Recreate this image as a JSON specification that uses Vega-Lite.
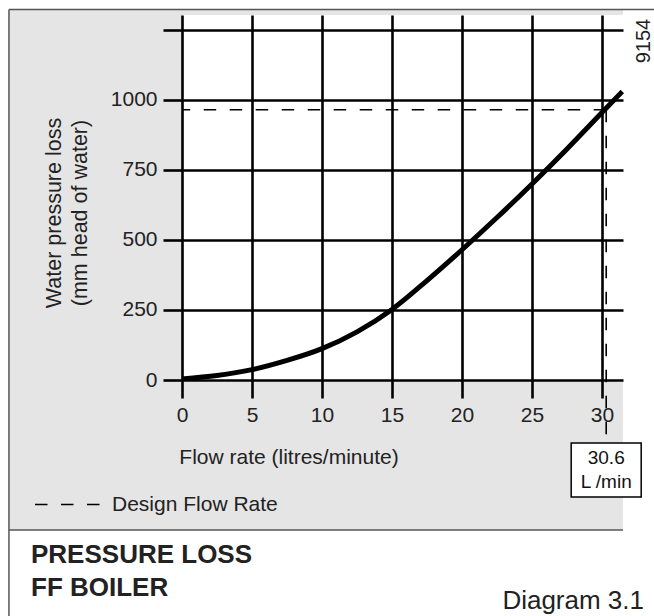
{
  "$schema": "https://vega.github.io/schema/vega-lite/v6.json",
  "width": 441,
  "height": 365,
  "autosize": {"type": "none"},
  "padding": {"left": 182, "top": 15, "right": 31, "bottom": 236},
  "background": "white",
  "config": {
    "font": "Liberation Sans",
    "view": {"stroke": null},
    "text": {"color": "#222", "font": "Liberation Sans"}
  },
  "title": {
    "text": ["PRESSURE LOSS", "FF BOILER"],
    "orient": "bottom",
    "anchor": "start",
    "frame": "group",
    "baseline": "alphabetic",
    "offset": -54.5,
    "dx": -151,
    "fontSize": 26,
    "fontWeight": "bold",
    "color": "#222",
    "lineHeight": 33.5,
    "font": "Liberation Sans"
  },
  "datasets": {
    "curve": [
      {"flow": 0, "loss": 4},
      {"flow": 2.5, "loss": 16},
      {"flow": 5, "loss": 37},
      {"flow": 7.5, "loss": 70},
      {"flow": 10, "loss": 112},
      {"flow": 12.5, "loss": 172},
      {"flow": 15, "loss": 252},
      {"flow": 17.5, "loss": 355},
      {"flow": 20, "loss": 465},
      {"flow": 22.5, "loss": 580},
      {"flow": 25, "loss": 700},
      {"flow": 27.5, "loss": 825},
      {"flow": 30, "loss": 955},
      {"flow": 31.45, "loss": 1030}
    ],
    "design": [
      {"flow": 30.3, "loss": 965, "label": "30.6\nL /min", "series": "Design Flow Rate"}
    ]
  },
  "layer": [
    {
      "data": {"values": [{}]},
      "mark": {"type": "rect", "fill": "#e5e5e5"},
      "encoding": {
        "x": {"datum": -12.36, "type": "quantitative"},
        "x2": {"datum": 31.5},
        "y": {"datum": 1321, "type": "quantitative"},
        "y2": {"datum": -535.5}
      }
    },
    {
      "data": {"values": [{}]},
      "mark": {"type": "rect", "fill": "#ffffff"},
      "encoding": {
        "x": {"datum": 0, "type": "quantitative"},
        "x2": {"datum": 31.5},
        "y": {"datum": 0, "type": "quantitative"},
        "y2": {"datum": 1303}
      }
    },
    {
      "data": {"values": [{}]},
      "mark": {"type": "rule", "color": "#555", "strokeWidth": 1.5},
      "encoding": {
        "x": {"datum": -12.36, "type": "quantitative"},
        "x2": {"datum": 33.75},
        "y": {"datum": 1322.6, "type": "quantitative"}
      }
    },
    {
      "data": {"values": [{}]},
      "mark": {"type": "rule", "color": "#555", "strokeWidth": 1.5},
      "encoding": {
        "x": {"datum": -12.36, "type": "quantitative"},
        "y": {"datum": 1322.6, "type": "quantitative"},
        "y2": {"datum": -845}
      }
    },
    {
      "data": {"values": [{}]},
      "mark": {"type": "rule", "color": "#555", "strokeWidth": 1.5},
      "encoding": {
        "x": {"datum": -12.36, "type": "quantitative"},
        "x2": {"datum": 31.5},
        "y": {"datum": -535.5, "type": "quantitative"}
      }
    },
    {
      "data": {"name": "curve"},
      "mark": {"type": "line", "color": "#000", "strokeWidth": 5, "interpolate": "monotone", "strokeCap": "butt"},
      "encoding": {
        "x": {
          "field": "flow",
          "type": "quantitative",
          "scale": {"domain": [0, 31.5], "nice": false, "zero": false},
          "axis": {
            "values": [0, 5, 10, 15, 20, 25, 30],
            "grid": true,
            "gridColor": "#000",
            "gridWidth": 2.6,
            "gridOpacity": 1,
            "domain": false,
            "ticks": true,
            "tickSize": 18,
            "tickWidth": 2.6,
            "tickColor": "#000",
            "labelFontSize": 21,
            "labelColor": "#222",
            "labelPadding": 6,
            "labelFlush": false,
            "labelOverlap": false,
            "labelFont": "Liberation Sans",
            "title": "Flow rate (litres/minute)",
            "titleFont": "Liberation Sans",
            "titleFontSize": 21,
            "titleFontWeight": "normal",
            "titleColor": "#222",
            "titleX": 106.5,
            "titleY": 83,
            "titleAlign": "center",
            "titleBaseline": "alphabetic",
            "zindex": 1
          }
        },
        "y": {
          "field": "loss",
          "type": "quantitative",
          "scale": {"domain": [0, 1303], "nice": false, "zero": false},
          "axis": {
            "values": [0, 250, 500, 750, 1000, 1250],
            "format": "d",
            "labelExpr": "datum.value == 1250 ? '' : datum.label",
            "grid": true,
            "gridColor": "#000",
            "gridWidth": 2.6,
            "gridOpacity": 1,
            "domain": false,
            "ticks": true,
            "tickSize": 19,
            "tickWidth": 2.6,
            "tickColor": "#000",
            "labelFontSize": 21,
            "labelColor": "#222",
            "labelPadding": 6,
            "labelFlush": false,
            "labelOverlap": false,
            "labelFont": "Liberation Sans",
            "title": ["Water pressure loss", "(mm head of water)"],
            "titleFont": "Liberation Sans",
            "titleFontSize": 21.5,
            "titleFontWeight": "normal",
            "titleColor": "#222",
            "titleAngle": 270,
            "titleX": -128,
            "titleY": 197.5,
            "titleAlign": "center",
            "titleBaseline": "middle",
            "titleLineHeight": 26.5,
            "zindex": 1
          }
        }
      }
    },
    {
      "data": {"name": "design"},
      "mark": {"type": "rule", "color": "#000", "strokeWidth": 1.6},
      "encoding": {
        "x": {"field": "flow", "type": "quantitative"},
        "x2": {"datum": 0},
        "y": {"field": "loss", "type": "quantitative"},
        "strokeDash": {
          "field": "series",
          "type": "nominal",
          "scale": {"domain": ["Design Flow Rate"], "range": [[12.5, 13.5]]},
          "legend": {
            "orient": "none",
            "legendX": -148,
            "legendY": 456,
            "title": null,
            "padding": 0,
            "symbolType": "stroke",
            "symbolSize": 4225,
            "symbolStrokeWidth": 1.6,
            "symbolStrokeColor": "#222",
            "labelFontSize": 21,
            "labelColor": "#222",
            "labelFont": "Liberation Sans",
            "labelOffset": 11,
            "labelLimit": 400
          }
        }
      }
    },
    {
      "data": {"name": "design"},
      "mark": {"type": "rule", "color": "#000", "strokeWidth": 1.6},
      "encoding": {
        "x": {"field": "flow", "type": "quantitative"},
        "y": {"field": "loss", "type": "quantitative"},
        "y2": {"datum": -214},
        "strokeDash": {"field": "series", "type": "nominal"}
      }
    },
    {
      "data": {"name": "design"},
      "mark": {
        "type": "point",
        "shape": "M-1,-0.771H1V0.771H-1Z",
        "size": 4900,
        "filled": false,
        "fill": "#ffffff",
        "fillOpacity": 1,
        "stroke": "#000",
        "strokeWidth": 1.5,
        "opacity": 1,
        "yOffset": 90
      },
      "encoding": {
        "x": {"field": "flow", "type": "quantitative"},
        "y": {"datum": 0, "type": "quantitative"}
      }
    },
    {
      "data": {"name": "design"},
      "mark": {
        "type": "text",
        "fontSize": 19,
        "lineBreak": "\n",
        "lineHeight": 24.5,
        "align": "center",
        "baseline": "middle",
        "color": "#111",
        "yOffset": 77.5
      },
      "encoding": {
        "x": {"field": "flow", "type": "quantitative"},
        "y": {"datum": 0, "type": "quantitative"},
        "text": {"field": "label", "type": "nominal"}
      }
    },
    {
      "data": {"values": [{"code": "9154"}]},
      "mark": {
        "type": "text",
        "fontSize": 20,
        "angle": 270,
        "align": "center",
        "baseline": "middle",
        "color": "#222",
        "xOffset": 20.5,
        "yOffset": 26
      },
      "encoding": {
        "x": {"datum": 31.5, "type": "quantitative"},
        "y": {"datum": 1303, "type": "quantitative"},
        "text": {"field": "code", "type": "nominal"}
      }
    },
    {
      "data": {"values": [{"caption": "Diagram 3.1"}]},
      "mark": {
        "type": "text",
        "fontSize": 26,
        "align": "right",
        "baseline": "alphabetic",
        "color": "#222",
        "xOffset": 21,
        "yOffset": 229
      },
      "encoding": {
        "x": {"datum": 31.5, "type": "quantitative"},
        "y": {"datum": 0, "type": "quantitative"},
        "text": {"field": "caption", "type": "nominal"}
      }
    }
  ]
}
